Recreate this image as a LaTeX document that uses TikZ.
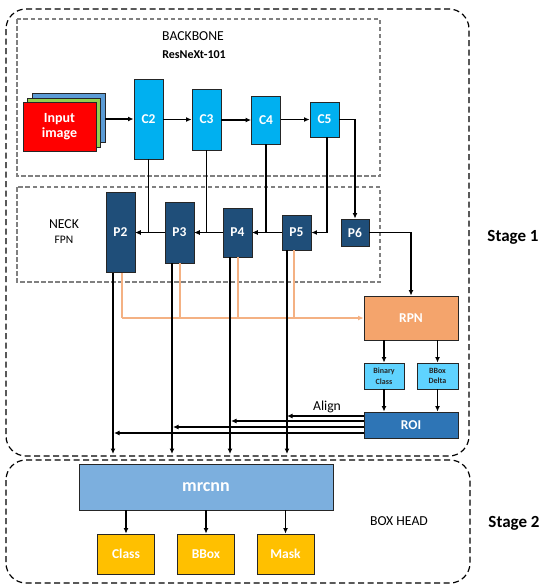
\documentclass[tikz,border=0pt]{standalone}
\usepackage{fontspec}
\setmainfont{Carlito}
\usetikzlibrary{arrows.meta}

\definecolor{cyan1}{HTML}{00B0F0}
\definecolor{navy1}{HTML}{1F4E79}
\definecolor{amber1}{HTML}{FFC000}
\definecolor{sky1}{HTML}{5FD3FF}
\definecolor{peach1}{HTML}{F4A46C}
\definecolor{peach2}{HTML}{F4B183}
\definecolor{mist1}{HTML}{7CAFDE}
\definecolor{steel1}{HTML}{2E75B6}
\definecolor{steel2}{HTML}{5B9BD5}
\definecolor{leaf1}{HTML}{92D050}

\begin{document}
\begin{tikzpicture}
    [
      x=1pt, y=-1pt,
      every node/.style = {align=center, inner sep=0pt, font=\bfseries\fontsize{13.5}{15.6}\selectfont},
      block/.style = {shape=rectangle, draw=black!85, line width=0.9pt, text=white},
      cblock/.style = {block, fill=cyan1},
      pblock/.style = {block, fill=navy1},
      outblock/.style = {block, fill=amber1, minimum width=57pt, minimum height=40pt},
      smallblock/.style = {block, fill=sky1, text=black!85, minimum width=40pt, minimum height=26pt,
                           font=\bfseries\fontsize{8}{10.5}\selectfont},
      stagebox/.style = {draw=black, line width=1.2pt, dash pattern=on 6pt off 3.5pt, rounded corners=20pt},
      partbox/.style = {draw=black!50, line width=1.1pt, dash pattern=on 4.5pt off 2.5pt},
      tag/.style = {text=black, font=\fontsize{13.7}{16}\selectfont},
      arrow/.style = {draw=black, line width=1.3pt, -{Latex[length=5.5pt,width=5pt]}},
      feed/.style = {draw=peach2, line width=1.5pt},
      stagelabel/.style = {text=black, font=\bfseries\fontsize{17}{20}\selectfont}
    ]

    \useasboundingbox (0,0) rectangle (540,584);

    % frames
    \draw[stagebox] (6,9) rectangle (469,456);
    \draw[stagebox] (6,460) rectangle (470,583);
    \draw[partbox] (17,19) rectangle (380,176);
    \draw[partbox] (17,187) rectangle (380,282);

    \node[tag] (backbone) at (193,36) {BACKBONE};
    \node[tag, font=\bfseries\fontsize{12}{14}\selectfont] (resnext) at (194,55) {ResNeXt-101};
    \node[tag] (neck) at (64,224) {NECK};
    \node[tag, font=\fontsize{11.5}{14}\selectfont] (fpn) at (64,240) {FPN};
    \node[tag] (boxhead) at (399,521) {BOX HEAD};
    \node[stagelabel] (stageone) at (513,237.5) {Stage 1};
    \node[stagelabel] (stagetwo) at (514,523.5) {Stage 2};

    % input stack
    \node[block, fill=steel2, minimum width=73pt, minimum height=49pt] (inblue) at (68.5,117.5) {};
    \node[block, fill=leaf1, minimum width=73pt, minimum height=49pt] (ingreen) at (64,122.5) {};
    \node[block, fill=red, minimum width=73pt, minimum height=49pt, font=\bfseries\fontsize{14}{15.6}\selectfont] (inred) at (59.5,126.5) {Input\\image};

    % backbone
    \node[cblock, minimum width=29pt, minimum height=80pt] (C2) at (148.5,119) {C2};
    \node[cblock, minimum width=29pt, minimum height=61pt] (C3) at (206.5,119.5) {C3};
    \node[cblock, minimum width=29pt, minimum height=48pt] (C4) at (266,120) {C4};
    \node[cblock, minimum width=29pt, minimum height=35pt] (C5) at (324.5,119.5) {C5};

    % neck
    \node[pblock, minimum width=29pt, minimum height=80pt] (P2) at (120.5,232.5) {P2};
    \node[pblock, minimum width=29pt, minimum height=61pt] (P3) at (179.5,232.5) {P3};
    \node[pblock, minimum width=29pt, minimum height=49pt] (P4) at (237.5,232.5) {P4};
    \node[pblock, minimum width=29pt, minimum height=35pt] (P5) at (296.5,232.5) {P5};
    \node[pblock, minimum width=28pt, minimum height=27pt] (P6) at (355,232.5) {P6};

    % right side
    \node[block, fill=peach1, minimum width=94pt, minimum height=44pt] (RPN) at (411,318) {RPN};
    \node[smallblock] (binary) at (384,376) {Binary\\Class};
    \node[smallblock, minimum width=41pt] (delta) at (437.5,376) {BBox\\Delta};
    \node[block, fill=steel1, minimum width=94pt, minimum height=26pt] (ROI) at (411,425) {ROI};
    \node[tag] (align) at (327,407) {Align};

    % box head
    \node[block, fill=mist1, minimum width=254pt, minimum height=46pt, font=\bfseries\fontsize{18}{20}\selectfont] (mrcnn) at (206,487) {mrcnn};
    \node[outblock] (class) at (126,554) {Class};
    \node[outblock] (bbox) at (206,554) {BBox};
    \node[outblock] (mask) at (285.5,554) {Mask};

    \coordinate (dropA) at (113,454);
    \coordinate (dropB) at (172,454);
    \coordinate (dropC) at (230,454);
    \coordinate (dropD) at (287,454);
    \coordinate (busA) at (122,318);
    \coordinate (busB) at (180,318);
    \coordinate (busC) at (238,318);
    \coordinate (busD) at (294,318);
    \coordinate (alignA) at (287,416);
    \coordinate (alignB) at (231,421);
    \coordinate (alignC) at (173,427);
    \coordinate (alignD) at (114,433);

    % orange feed into RPN
    \draw[feed] (busA |- P2.south) -- (busA);
    \draw[feed] (busB |- P3.south) -- (busB);
    \draw[feed] (busC |- P4.south) -- (busC);
    \draw[feed] (busD |- P5.south) -- (busD);
    \draw[feed, -{Latex[length=5.5pt,width=5pt]}] (busA) -- (RPN.west);

    % backbone arrows
    \draw[arrow] (C2.west -| inblue.east) -- (C2.west);
    \draw[arrow] (C2.east |- C3.west) -- (C3.west);
    \draw[arrow] (C3.east |- C4.west) -- (C4.west);
    \draw[arrow] (C4.east |- C5.west) -- (C5.west);
    \draw[arrow] (C2.south) |- (P2.east);
    \draw[arrow] (C3.south) |- (P3.east);
    \draw[arrow] (C4.south) |- (P4.east);
    \draw[arrow] ([xshift=2.5pt]C5.south) |- (P5.east);
    \draw[arrow] (C5.east) -| (P6.north);

    % neck arrows
    \draw[arrow] (P3.west) -- (P2.east);
    \draw[arrow] (P4.west) -- (P3.east);
    \draw[arrow] (P5.west) -- (P4.east);
    \draw[arrow] (P6.east) -| (RPN.north);
    \draw[arrow] (dropA |- P2.south) -- (dropA);
    \draw[arrow] (dropB |- P3.south) -- (dropB);
    \draw[arrow] (dropC |- P4.south) -- (dropC);
    \draw[arrow] (dropD |- P5.south) -- (dropD);

    % rpn and roi
    \draw[arrow] (binary.north |- RPN.south) -- (binary.north);
    \draw[arrow] (delta.north |- RPN.south) -- (delta.north);
    \draw[arrow] (binary.south) -- (binary.south |- ROI.north);
    \draw[arrow] (delta.south) -- (delta.south |- ROI.north);
    \draw[arrow] (alignA -| ROI.west) -- (alignA);
    \draw[arrow] (alignB -| ROI.west) -- (alignB);
    \draw[arrow] (alignC -| ROI.west) -- (alignC);
    \draw[arrow] (alignD -| ROI.west) -- (alignD);

    % head outputs
    \draw[arrow] (class.north |- mrcnn.south) -- (class.north);
    \draw[arrow] (bbox.north |- mrcnn.south) -- (bbox.north);
    \draw[arrow] (mask.north |- mrcnn.south) -- (mask.north);
  \end{tikzpicture}
\end{document}
